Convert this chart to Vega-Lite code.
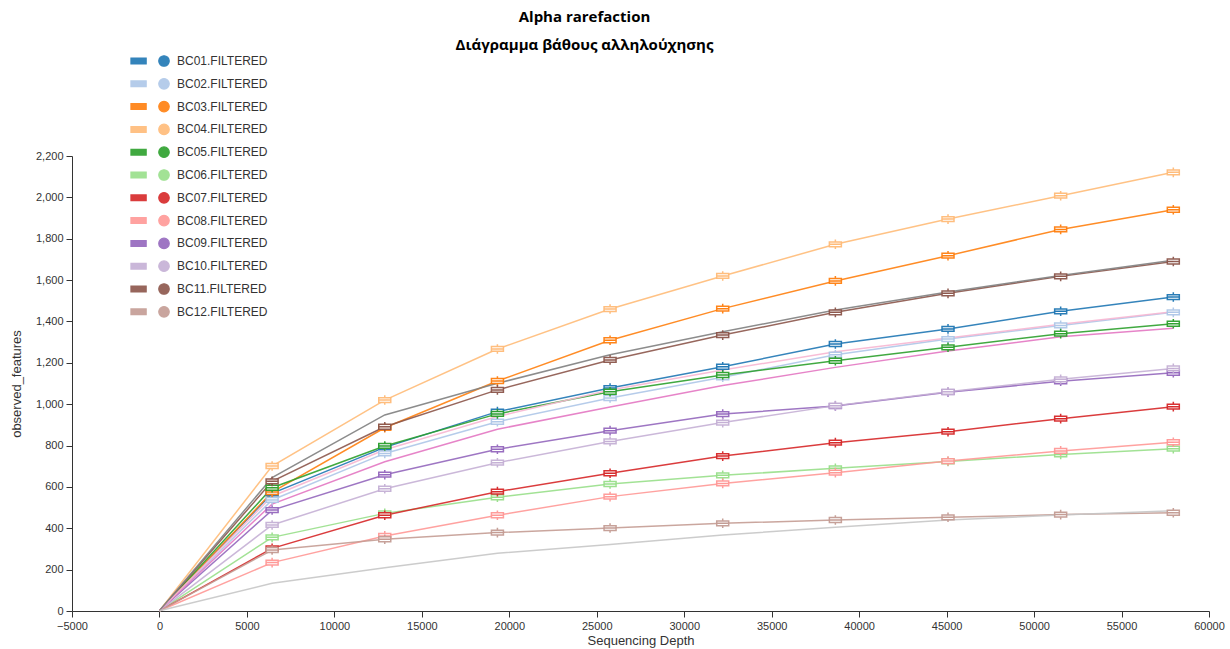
{
  "$schema": "https://vega.github.io/schema/vega-lite/v6.json",
  "width": 1137,
  "height": 455,
  "autosize": {"type": "none"},
  "padding": {"left": 72, "top": 156, "right": 21, "bottom": 38},
  "title": {
    "text": "Alpha rarefaction",
    "subtitle": "Διάγραμμα βάθους αλληλούχησης",
    "anchor": "middle",
    "dx": -56,
    "offset": 2,
    "font": "Open Sans",
    "fontSize": 15,
    "fontWeight": "bold",
    "color": "#000",
    "subtitleFont": "Open Sans",
    "subtitleFontSize": 15,
    "subtitleFontWeight": "bold",
    "subtitleColor": "#000",
    "subtitlePadding": 13
  },
  "config": {
    "view": {"stroke": null},
    "font": "Liberation Sans",
    "axis": {
      "grid": false,
      "domainColor": "#333",
      "tickColor": "#333",
      "tickSize": 6,
      "labelColor": "#333",
      "labelFont": "Liberation Sans",
      "labelFontSize": 11,
      "titleFont": "Liberation Sans",
      "titleFontSize": 13,
      "titleFontWeight": "normal",
      "titleColor": "#333"
    }
  },
  "data": {
    "values": [
      {"sample": "BC01.FILTERED", "depth": 1, "observed_features": 1},
      {"sample": "BC01.FILTERED", "depth": 6440, "observed_features": 569},
      {"sample": "BC01.FILTERED", "depth": 12880, "observed_features": 791},
      {"sample": "BC01.FILTERED", "depth": 19320, "observed_features": 964},
      {"sample": "BC01.FILTERED", "depth": 25760, "observed_features": 1078},
      {"sample": "BC01.FILTERED", "depth": 32200, "observed_features": 1181},
      {"sample": "BC01.FILTERED", "depth": 38640, "observed_features": 1291},
      {"sample": "BC01.FILTERED", "depth": 45080, "observed_features": 1364},
      {"sample": "BC01.FILTERED", "depth": 51520, "observed_features": 1449},
      {"sample": "BC01.FILTERED", "depth": 57960, "observed_features": 1518},

      {"sample": "BC02.FILTERED", "depth": 1, "observed_features": 1},
      {"sample": "BC02.FILTERED", "depth": 6440, "observed_features": 537},
      {"sample": "BC02.FILTERED", "depth": 12880, "observed_features": 762},
      {"sample": "BC02.FILTERED", "depth": 19320, "observed_features": 915},
      {"sample": "BC02.FILTERED", "depth": 25760, "observed_features": 1030},
      {"sample": "BC02.FILTERED", "depth": 32200, "observed_features": 1130},
      {"sample": "BC02.FILTERED", "depth": 38640, "observed_features": 1239},
      {"sample": "BC02.FILTERED", "depth": 45080, "observed_features": 1315},
      {"sample": "BC02.FILTERED", "depth": 51520, "observed_features": 1381},
      {"sample": "BC02.FILTERED", "depth": 57960, "observed_features": 1444},

      {"sample": "BC03.FILTERED", "depth": 1, "observed_features": 1},
      {"sample": "BC03.FILTERED", "depth": 6440, "observed_features": 575},
      {"sample": "BC03.FILTERED", "depth": 12880, "observed_features": 886},
      {"sample": "BC03.FILTERED", "depth": 19320, "observed_features": 1112},
      {"sample": "BC03.FILTERED", "depth": 25760, "observed_features": 1309},
      {"sample": "BC03.FILTERED", "depth": 32200, "observed_features": 1462},
      {"sample": "BC03.FILTERED", "depth": 38640, "observed_features": 1596},
      {"sample": "BC03.FILTERED", "depth": 45080, "observed_features": 1718},
      {"sample": "BC03.FILTERED", "depth": 51520, "observed_features": 1845},
      {"sample": "BC03.FILTERED", "depth": 57960, "observed_features": 1940},

      {"sample": "BC04.FILTERED", "depth": 1, "observed_features": 1},
      {"sample": "BC04.FILTERED", "depth": 6440, "observed_features": 701},
      {"sample": "BC04.FILTERED", "depth": 12880, "observed_features": 1020},
      {"sample": "BC04.FILTERED", "depth": 19320, "observed_features": 1267},
      {"sample": "BC04.FILTERED", "depth": 25760, "observed_features": 1460},
      {"sample": "BC04.FILTERED", "depth": 32200, "observed_features": 1620},
      {"sample": "BC04.FILTERED", "depth": 38640, "observed_features": 1773},
      {"sample": "BC04.FILTERED", "depth": 45080, "observed_features": 1895},
      {"sample": "BC04.FILTERED", "depth": 51520, "observed_features": 2008},
      {"sample": "BC04.FILTERED", "depth": 57960, "observed_features": 2121},

      {"sample": "BC05.FILTERED", "depth": 1, "observed_features": 1},
      {"sample": "BC05.FILTERED", "depth": 6440, "observed_features": 596},
      {"sample": "BC05.FILTERED", "depth": 12880, "observed_features": 798},
      {"sample": "BC05.FILTERED", "depth": 19320, "observed_features": 953},
      {"sample": "BC05.FILTERED", "depth": 25760, "observed_features": 1060},
      {"sample": "BC05.FILTERED", "depth": 32200, "observed_features": 1141},
      {"sample": "BC05.FILTERED", "depth": 38640, "observed_features": 1210},
      {"sample": "BC05.FILTERED", "depth": 45080, "observed_features": 1275},
      {"sample": "BC05.FILTERED", "depth": 51520, "observed_features": 1341},
      {"sample": "BC05.FILTERED", "depth": 57960, "observed_features": 1389},

      {"sample": "BC06.FILTERED", "depth": 1, "observed_features": 1},
      {"sample": "BC06.FILTERED", "depth": 6440, "observed_features": 356},
      {"sample": "BC06.FILTERED", "depth": 12880, "observed_features": 472},
      {"sample": "BC06.FILTERED", "depth": 19320, "observed_features": 550},
      {"sample": "BC06.FILTERED", "depth": 25760, "observed_features": 614},
      {"sample": "BC06.FILTERED", "depth": 32200, "observed_features": 656},
      {"sample": "BC06.FILTERED", "depth": 38640, "observed_features": 690},
      {"sample": "BC06.FILTERED", "depth": 45080, "observed_features": 723},
      {"sample": "BC06.FILTERED", "depth": 51520, "observed_features": 757},
      {"sample": "BC06.FILTERED", "depth": 57960, "observed_features": 785},

      {"sample": "BC07.FILTERED", "depth": 1, "observed_features": 1},
      {"sample": "BC07.FILTERED", "depth": 6440, "observed_features": 303},
      {"sample": "BC07.FILTERED", "depth": 12880, "observed_features": 463},
      {"sample": "BC07.FILTERED", "depth": 19320, "observed_features": 577},
      {"sample": "BC07.FILTERED", "depth": 25760, "observed_features": 666},
      {"sample": "BC07.FILTERED", "depth": 32200, "observed_features": 749},
      {"sample": "BC07.FILTERED", "depth": 38640, "observed_features": 814},
      {"sample": "BC07.FILTERED", "depth": 45080, "observed_features": 867},
      {"sample": "BC07.FILTERED", "depth": 51520, "observed_features": 930},
      {"sample": "BC07.FILTERED", "depth": 57960, "observed_features": 988},

      {"sample": "BC08.FILTERED", "depth": 1, "observed_features": 1},
      {"sample": "BC08.FILTERED", "depth": 6440, "observed_features": 234},
      {"sample": "BC08.FILTERED", "depth": 12880, "observed_features": 363},
      {"sample": "BC08.FILTERED", "depth": 19320, "observed_features": 463},
      {"sample": "BC08.FILTERED", "depth": 25760, "observed_features": 553},
      {"sample": "BC08.FILTERED", "depth": 32200, "observed_features": 617},
      {"sample": "BC08.FILTERED", "depth": 38640, "observed_features": 669},
      {"sample": "BC08.FILTERED", "depth": 45080, "observed_features": 725},
      {"sample": "BC08.FILTERED", "depth": 51520, "observed_features": 774},
      {"sample": "BC08.FILTERED", "depth": 57960, "observed_features": 816},

      {"sample": "BC09.FILTERED", "depth": 1, "observed_features": 1},
      {"sample": "BC09.FILTERED", "depth": 6440, "observed_features": 488},
      {"sample": "BC09.FILTERED", "depth": 12880, "observed_features": 659},
      {"sample": "BC09.FILTERED", "depth": 19320, "observed_features": 782},
      {"sample": "BC09.FILTERED", "depth": 25760, "observed_features": 872},
      {"sample": "BC09.FILTERED", "depth": 32200, "observed_features": 952},
      {"sample": "BC09.FILTERED", "depth": 38640, "observed_features": 991},
      {"sample": "BC09.FILTERED", "depth": 45080, "observed_features": 1058},
      {"sample": "BC09.FILTERED", "depth": 51520, "observed_features": 1111},
      {"sample": "BC09.FILTERED", "depth": 57960, "observed_features": 1152},

      {"sample": "BC10.FILTERED", "depth": 1, "observed_features": 1},
      {"sample": "BC10.FILTERED", "depth": 6440, "observed_features": 416},
      {"sample": "BC10.FILTERED", "depth": 12880, "observed_features": 591},
      {"sample": "BC10.FILTERED", "depth": 19320, "observed_features": 717},
      {"sample": "BC10.FILTERED", "depth": 25760, "observed_features": 820},
      {"sample": "BC10.FILTERED", "depth": 32200, "observed_features": 911},
      {"sample": "BC10.FILTERED", "depth": 38640, "observed_features": 993},
      {"sample": "BC10.FILTERED", "depth": 45080, "observed_features": 1060},
      {"sample": "BC10.FILTERED", "depth": 51520, "observed_features": 1120},
      {"sample": "BC10.FILTERED", "depth": 57960, "observed_features": 1173},

      {"sample": "BC11.FILTERED", "depth": 1, "observed_features": 1},
      {"sample": "BC11.FILTERED", "depth": 6440, "observed_features": 627},
      {"sample": "BC11.FILTERED", "depth": 12880, "observed_features": 891},
      {"sample": "BC11.FILTERED", "depth": 19320, "observed_features": 1069},
      {"sample": "BC11.FILTERED", "depth": 25760, "observed_features": 1214},
      {"sample": "BC11.FILTERED", "depth": 32200, "observed_features": 1334},
      {"sample": "BC11.FILTERED", "depth": 38640, "observed_features": 1444},
      {"sample": "BC11.FILTERED", "depth": 45080, "observed_features": 1536},
      {"sample": "BC11.FILTERED", "depth": 51520, "observed_features": 1618},
      {"sample": "BC11.FILTERED", "depth": 57960, "observed_features": 1690},

      {"sample": "BC12.FILTERED", "depth": 1, "observed_features": 1},
      {"sample": "BC12.FILTERED", "depth": 6440, "observed_features": 295},
      {"sample": "BC12.FILTERED", "depth": 12880, "observed_features": 347},
      {"sample": "BC12.FILTERED", "depth": 19320, "observed_features": 379},
      {"sample": "BC12.FILTERED", "depth": 25760, "observed_features": 401},
      {"sample": "BC12.FILTERED", "depth": 32200, "observed_features": 424},
      {"sample": "BC12.FILTERED", "depth": 38640, "observed_features": 440},
      {"sample": "BC12.FILTERED", "depth": 45080, "observed_features": 453},
      {"sample": "BC12.FILTERED", "depth": 51520, "observed_features": 466},
      {"sample": "BC12.FILTERED", "depth": 57960, "observed_features": 475},

      {"sample": "BC13.FILTERED", "depth": 1, "observed_features": 1},
      {"sample": "BC13.FILTERED", "depth": 6440, "observed_features": 517},
      {"sample": "BC13.FILTERED", "depth": 12880, "observed_features": 722},
      {"sample": "BC13.FILTERED", "depth": 19320, "observed_features": 879},
      {"sample": "BC13.FILTERED", "depth": 25760, "observed_features": 986},
      {"sample": "BC13.FILTERED", "depth": 32200, "observed_features": 1090},
      {"sample": "BC13.FILTERED", "depth": 38640, "observed_features": 1178},
      {"sample": "BC13.FILTERED", "depth": 45080, "observed_features": 1257},
      {"sample": "BC13.FILTERED", "depth": 51520, "observed_features": 1326},
      {"sample": "BC13.FILTERED", "depth": 57960, "observed_features": 1367},

      {"sample": "BC14.FILTERED", "depth": 1, "observed_features": 1},
      {"sample": "BC14.FILTERED", "depth": 6440, "observed_features": 555},
      {"sample": "BC14.FILTERED", "depth": 12880, "observed_features": 780},
      {"sample": "BC14.FILTERED", "depth": 19320, "observed_features": 940},
      {"sample": "BC14.FILTERED", "depth": 25760, "observed_features": 1069},
      {"sample": "BC14.FILTERED", "depth": 32200, "observed_features": 1165},
      {"sample": "BC14.FILTERED", "depth": 38640, "observed_features": 1254},
      {"sample": "BC14.FILTERED", "depth": 45080, "observed_features": 1320},
      {"sample": "BC14.FILTERED", "depth": 51520, "observed_features": 1386},
      {"sample": "BC14.FILTERED", "depth": 57960, "observed_features": 1447},

      {"sample": "BC15.FILTERED", "depth": 1, "observed_features": 1},
      {"sample": "BC15.FILTERED", "depth": 6440, "observed_features": 645},
      {"sample": "BC15.FILTERED", "depth": 12880, "observed_features": 948},
      {"sample": "BC15.FILTERED", "depth": 19320, "observed_features": 1101},
      {"sample": "BC15.FILTERED", "depth": 25760, "observed_features": 1239},
      {"sample": "BC15.FILTERED", "depth": 32200, "observed_features": 1350},
      {"sample": "BC15.FILTERED", "depth": 38640, "observed_features": 1455},
      {"sample": "BC15.FILTERED", "depth": 45080, "observed_features": 1542},
      {"sample": "BC15.FILTERED", "depth": 51520, "observed_features": 1622},
      {"sample": "BC15.FILTERED", "depth": 57960, "observed_features": 1696},

      {"sample": "BC16.FILTERED", "depth": 1, "observed_features": 1},
      {"sample": "BC16.FILTERED", "depth": 6440, "observed_features": 134},
      {"sample": "BC16.FILTERED", "depth": 12880, "observed_features": 209},
      {"sample": "BC16.FILTERED", "depth": 19320, "observed_features": 279},
      {"sample": "BC16.FILTERED", "depth": 25760, "observed_features": 322},
      {"sample": "BC16.FILTERED", "depth": 32200, "observed_features": 367},
      {"sample": "BC16.FILTERED", "depth": 38640, "observed_features": 405},
      {"sample": "BC16.FILTERED", "depth": 45080, "observed_features": 440},
      {"sample": "BC16.FILTERED", "depth": 51520, "observed_features": 464},
      {"sample": "BC16.FILTERED", "depth": 57960, "observed_features": 485}
    ]
  },
  "encoding": {
    "x": {
      "field": "depth",
      "type": "quantitative",
      "scale": {"domain": [-5000, 60000], "nice": false, "zero": false},
      "axis": {
        "title": "Sequencing Depth",
        "values": [-5000, 0, 5000, 10000, 15000, 20000, 25000, 30000, 35000, 40000, 45000, 50000, 55000, 60000],
        "format": "d",
        "labelPadding": 3,
        "titlePadding": 3,
        "labelFlush": false
      }
    },
    "y": {
      "field": "observed_features",
      "type": "quantitative",
      "scale": {"domain": [0, 2200], "nice": false},
      "axis": {
        "title": "observed_features",
        "values": [0, 200, 400, 600, 800, 1000, 1200, 1400, 1600, 1800, 2000, 2200],
        "format": ",d",
        "labelPadding": 3,
        "titlePadding": 12
      }
    },
    "color": {
      "field": "sample",
      "type": "nominal",
      "scale": {
        "domain": ["BC01.FILTERED", "BC02.FILTERED", "BC03.FILTERED", "BC04.FILTERED", "BC05.FILTERED", "BC06.FILTERED", "BC07.FILTERED", "BC08.FILTERED", "BC09.FILTERED", "BC10.FILTERED", "BC11.FILTERED", "BC12.FILTERED", "BC13.FILTERED", "BC14.FILTERED", "BC15.FILTERED", "BC16.FILTERED"],
        "range": ["#1f77b4", "#aec7e8", "#ff7f0e", "#ffbb78", "#2ca02c", "#98df8a", "#d62728", "#ff9896", "#9467bd", "#c5b0d5", "#8c564b", "#c49c94", "#e377c2", "#f7b6d2", "#7f7f7f", "#c7c7c7"]
      },
      "legend": {
        "orient": "none",
        "legendX": 86,
        "legendY": -101,
        "title": null,
        "padding": 0,
        "values": ["BC01.FILTERED", "BC02.FILTERED", "BC03.FILTERED", "BC04.FILTERED", "BC05.FILTERED", "BC06.FILTERED", "BC07.FILTERED", "BC08.FILTERED", "BC09.FILTERED", "BC10.FILTERED", "BC11.FILTERED", "BC12.FILTERED"],
        "symbolType": "M-6.3,-0.55H-3.4V0.55H-6.3Z M1,0A1,1 0 1,1 -1,0A1,1 0 1,1 1,0Z",
        "symbolSize": 110,
        "symbolStrokeWidth": 1.2,
        "symbolStrokeColor": "#333",
        "symbolFillColor": {"expr": "scale('color', datum.value)"},
        "labelFont": "Liberation Sans",
        "labelFontSize": 12,
        "labelColor": "#333",
        "labelOffset": 7,
        "rowPadding": 6.8,
        "encode": {
          "symbols": {
            "stroke": {"value": "#333"},
            "strokeWidth": {"value": 1.2},
            "opacity": {"value": 1},
            "fillOpacity": {"value": 1}
          }
        }
      }
    }
  },
  "layer": [
    {
      "mark": {"type": "line", "strokeWidth": 1.5, "opacity": 0.9},
      "encoding": {
        "detail": {"field": "sample", "type": "nominal"}
      }
    },
    {
      "transform": [
        {"filter": "datum.depth > 1 && datum.sample <= 'BC12.FILTERED'"}
      ],
      "mark": {
        "type": "point",
        "filled": false,
        "fill": "white",
        "fillOpacity": 1,
        "opacity": 0.95,
        "strokeWidth": 1.5,
        "size": 144,
        "shape": "M-1,-0.4H1V0.4H-1Z M-1,0H1 M0,-0.4V-0.8 M0,0.4V0.8"
      }
    }
  ]
}
